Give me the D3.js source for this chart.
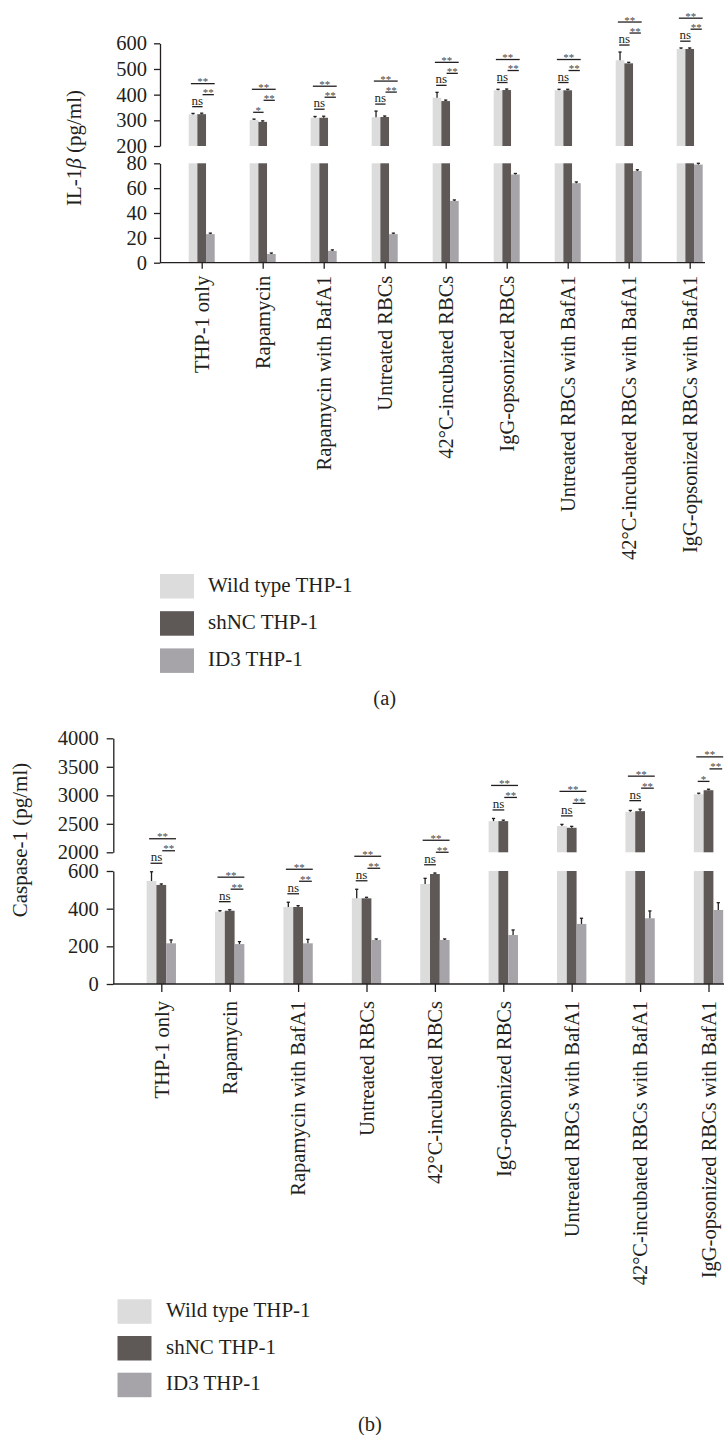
<!DOCTYPE html>
<html>
<head>
<meta charset="utf-8">
<script src="https://cdn.jsdelivr.net/npm/d3@7"></script>
<style>
  body { margin: 0; background: #fff; }
  svg { display: block; background: #fff; }
  text { font-family: "Liberation Serif", "Times New Roman", serif; fill: #231f20; }
</style>
</head>
<body>
<svg id="fig" width="724" height="1435"></svg>
<script>
// Treatment groups along the x axis
const categories = [
  "THP-1 only", "Rapamycin", "Rapamycin with BafA1", "Untreated RBCs",
  "42°C-incubated RBCs", "IgG-opsonized RBCs", "Untreated RBCs with BafA1",
  "42°C-incubated RBCs with BafA1", "IgG-opsonized RBCs with BafA1"
];
const seriesNames = ["Wild type THP-1", "shNC THP-1", "ID3 THP-1"];
const seriesColors = ["#dcdcdc", "#5e5957", "#a7a4a9"];

// IL-1β (pg/ml), mean and error per cell line
const il1bWild    = [323, 301, 310, 312, 388, 417, 417, 534, 578];
const il1bWildErr = [3, 3, 5, 24, 21, 3, 3, 32, 3];
const il1bShnc    = [324, 294, 310, 313, 375, 418, 417, 522, 578];
const il1bShncErr = [2, 2, 6, 3, 2, 2, 1, 1, 3];
const il1bId3     = [23, 7, 9.5, 23, 49.7, 71, 64, 73.8, 79];
const il1bId3Err  = [0.3, 0.3, 0.3, 0.3, 0.5, 0.5, 1, 1, 1];
const il1bFirstMark = ["ns", "*", "ns", "ns", "ns", "ns", "ns", "ns", "ns"];
const il1bLowTicks  = [0, 20, 40, 60, 80];
const il1bHighTicks = [200, 300, 400, 500, 600];

// Caspase-1 (pg/ml), mean and error per cell line
const casp1Wild    = [547, 384, 409, 455, 531, 2547, 2460, 2710, 3019];
const casp1WildErr = [49, 3, 25, 48, 30, 47, 30, 24, 6];
const casp1Shnc    = [526, 389, 409, 455, 584, 2547, 2430, 2722, 3089];
const casp1ShncErr = [2, 3, 7, 3, 4, 8, 25, 35, 6];
const casp1Id3     = [216, 212, 216, 234, 234, 260, 319, 349, 393];
const casp1Id3Err  = [18, 13, 21, 3, 3, 27, 30, 39, 39];
const casp1FirstMark = ["ns", "ns", "ns", "ns", "ns", "ns", "ns", "ns", "*"];
const casp1LowTicks  = [0, 200, 400, 600];
const casp1HighTicks = [2000, 2500, 3000, 3500, 4000];

const INK = "#231f20";
const svg = d3.select("#fig");

function drawPanel(p) {
  const g = svg.append("g");
  const low = d3.scaleLinear().domain([p.lowTicks[0], p.lowTicks[p.lowTicks.length - 1]]).range(p.lowRange);
  const high = d3.scaleLinear().domain([p.highTicks[0], p.highTicks[p.highTicks.length - 1]]).range(p.highRange);
  const lowMax = low.domain()[1], highMin = high.domain()[0];
  const x = d3.scalePoint().domain(categories).range([p.xFirst, p.xLast]);
  const w = p.barW;
  const series = [
    { vals: p.wild, errs: p.wildErr },
    { vals: p.shnc, errs: p.shncErr },
    { vals: p.id3, errs: p.id3Err }
  ];
  const yOf = v => (v >= highMin ? high(v) : low(v));

  // bars, split across the broken axis
  series.forEach((s, si) => {
    const rows = categories.map((c, i) => ({ c, v: s.vals[i], e: s.errs[i], left: x(c) + (si - 1.5) * w }));
    g.append("g").selectAll("rect").data(rows).join("rect")
      .attr("x", d => d.left).attr("width", w)
      .attr("y", d => low(Math.min(d.v, lowMax)))
      .attr("height", d => low(0) - low(Math.min(d.v, lowMax)))
      .attr("fill", seriesColors[si]);
    g.append("g").selectAll("rect").data(rows.filter(d => d.v > highMin)).join("rect")
      .attr("x", d => d.left).attr("width", w)
      .attr("y", d => high(d.v))
      .attr("height", d => high(highMin) - high(d.v))
      .attr("fill", seriesColors[si]);
    // error bars (upper half only)
    const eb = g.append("g").attr("stroke", INK).attr("stroke-width", 1.3);
    rows.forEach(d => {
      const cx = d.left + w / 2;
      const y0 = yOf(d.v), y1 = Math.min(yOf(d.v + d.e), y0 - 1);
      eb.append("line").attr("x1", cx).attr("x2", cx).attr("y1", y0).attr("y2", y1);
      eb.append("line").attr("x1", cx - 1.6).attr("x2", cx + 1.6).attr("y1", y1).attr("y2", y1);
    });
  });

  // y axes: lower and upper segments
  const yAxisG = g.append("g").attr("transform", `translate(${p.yAxisX},0)`);
  [[low, p.lowTicks], [high, p.highTicks]].forEach(([sc, ticks]) => {
    const a = yAxisG.append("g").call(
      d3.axisLeft(sc).tickValues(ticks).tickSize(p.yTick).tickSizeOuter(0).tickPadding(p.yPad).tickFormat(d3.format("d"))
    );
    a.selectAll("path, line").attr("stroke", INK).attr("stroke-width", 1.3);
    a.selectAll("text").attr("font-size", p.fontSize).attr("fill", INK);
  });

  // x axis
  g.append("line").attr("x1", p.yAxisX).attr("x2", p.axisEnd)
    .attr("y1", low(0)).attr("y2", low(0)).attr("stroke", INK).attr("stroke-width", 1.3);
  const xa = g.append("g").attr("transform", `translate(0,${low(0)})`)
    .call(d3.axisBottom(x).tickSize(p.xTick).tickSizeOuter(0));
  xa.select(".domain").remove();
  xa.selectAll("line").attr("stroke", INK).attr("stroke-width", 1.3);
  xa.selectAll("text")
    .attr("font-size", p.fontSize).attr("fill", INK)
    .attr("transform", "rotate(-90)")
    .attr("text-anchor", "end")
    .attr("x", -(p.xTick + p.xPad)).attr("y", 0).attr("dy", "0.33em");

  // y axis title
  const yt = g.append("text")
    .attr("transform", `translate(${p.yLabelX},${p.yLabelY}) rotate(-90)`)
    .attr("text-anchor", "middle").attr("dy", "0.33em")
    .attr("font-size", p.titleSize);
  p.yLabel.forEach(part => yt.append("tspan").attr("font-style", part.italic ? "italic" : null).text(part.t));

  // significance brackets
  const ann = g.append("g");
  categories.forEach((c, i) => {
    const cx = x(c);
    const top = Math.min(yOf(p.wild[i] + p.wildErr[i]), yOf(p.shnc[i] + p.shncErr[i]));
    const yNs = top - p.annOff[0], yShort = yNs - p.annOff[1], yLong = yShort - p.annOff[2];
    const marks = [
      { y: yNs, x1: cx - 1.1 * w, x2: cx + 0.1 * w, t: p.firstMark[i] },
      { y: yShort, x1: cx + 0.1 * w, x2: cx + 1.4 * w, t: "**" },
      { y: yLong, x1: cx - 1.25 * w, x2: cx + 1.5 * w, t: "**" }
    ];
    marks.forEach(m => {
      ann.append("line").attr("x1", m.x1).attr("x2", m.x2).attr("y1", m.y).attr("y2", m.y)
        .attr("stroke", INK).attr("stroke-width", 1.3);
      const isNs = m.t === "ns";
      ann.append("text").attr("x", (m.x1 + m.x2) / 2)
        .attr("y", isNs ? m.y - 2 : m.y + 1.5)
        .attr("text-anchor", "middle")
        .attr("font-size", isNs ? 13 : 11)
        .style("fill", isNs ? INK : "#4a4647")
        .text(m.t);
    });
  });

  // legend
  const lg = g.append("g");
  seriesNames.forEach((name, i) => {
    const y0 = p.legendY + i * p.legendStep;
    lg.append("rect").attr("x", p.legendX).attr("y", y0).attr("width", 34).attr("height", 24.5)
      .attr("fill", seriesColors[i]);
    lg.append("text").attr("x", p.legendTextX).attr("y", y0 + 17.7)
      .attr("font-size", p.titleSize).text(name);
  });

  // panel tag
  g.append("text").attr("x", p.tagX).attr("y", p.tagY).attr("text-anchor", "middle")
    .attr("font-size", p.fontSize).text(p.tag);
}

drawPanel({
  wild: il1bWild, wildErr: il1bWildErr, shnc: il1bShnc, shncErr: il1bShncErr,
  id3: il1bId3, id3Err: il1bId3Err, firstMark: il1bFirstMark,
  lowTicks: il1bLowTicks, highTicks: il1bHighTicks,
  lowRange: [262.7, 163.3], highRange: [146, 43.3],
  yAxisX: 160, xFirst: 201.7, xLast: 689.7, axisEnd: 705, barW: 8.67,
  xTick: 6, xPad: 7, yTick: 6, yPad: 7, fontSize: 20.5, titleSize: 21,
  yLabel: [{ t: "IL-1" }, { t: "β", italic: true }, { t: " (pg/ml)" }], yLabelX: 74, yLabelY: 148,
  annOff: [7, 12, 11],
  legendX: 160, legendY: 574, legendStep: 37.2, legendTextX: 208,
  tag: "(a)", tagX: 384.7, tagY: 705
});

drawPanel({
  wild: casp1Wild, wildErr: casp1WildErr, shnc: casp1Shnc, shncErr: casp1ShncErr,
  id3: casp1Id3, id3Err: casp1Id3Err, firstMark: casp1FirstMark,
  lowTicks: casp1LowTicks, highTicks: casp1HighTicks,
  lowRange: [984, 871], highRange: [852.3, 738.3],
  yAxisX: 113.3, xFirst: 161.3, xLast: 708.5, axisEnd: 730, barW: 9.78,
  xTick: 8, xPad: 9, yTick: 6.6, yPad: 8, fontSize: 20.5, titleSize: 21,
  yLabel: [{ t: "Caspase-1 (pg/ml)" }], yLabelX: 20, yLabelY: 840,
  annOff: [8.5, 12.5, 12],
  legendX: 117.5, legendY: 1299.3, legendStep: 36.7, legendTextX: 166,
  tag: "(b)", tagX: 370, tagY: 1431
});
</script>
</body>
</html>
